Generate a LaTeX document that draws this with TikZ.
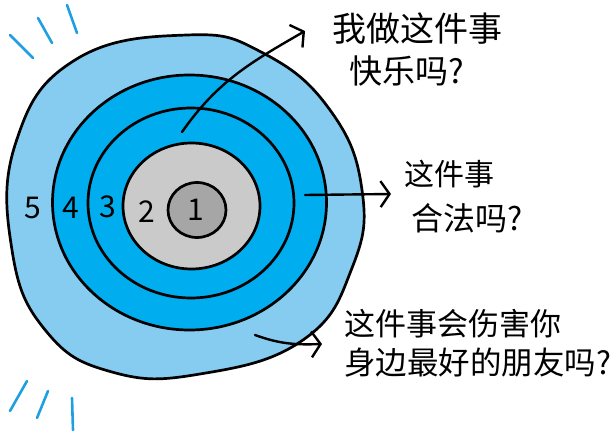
\documentclass[tikz,border=0pt]{standalone}
\usepackage{fontspec}
\newfontfamily\cjk{Noto Sans CJK SC}
\usetikzlibrary{arrows.meta}
\definecolor{ringfive}{HTML}{85CCF0}
\definecolor{ringblue}{HTML}{00AEEF}
\definecolor{ringtwo}{HTML}{CACACA}
\definecolor{ringone}{HTML}{A6A6A6}
\definecolor{rays}{HTML}{1EA0E0}
\tikzset{
  ring/.style={draw=black, line width=2.7pt},
  num/.style={font=\cjk\fontsize{30}{30}\selectfont, inner sep=0pt},
  qtext/.style={font=\cjk\fontsize{31}{31}\selectfont, anchor=west, inner sep=0pt},
  ray/.style={draw=rays, line width=2.6pt, line cap=round},
  arr/.style={draw=black, line width=2.4pt, line cap=round,
    -{Straight Barb[length=9pt,width=26pt,line width=2.4pt]}}
}
\begin{document}
\begin{tikzpicture}[x=1pt,y=-1pt]
\useasboundingbox (0,0) rectangle (613,433);
% outer ring 5
\draw[ring, fill=ringfive] plot[smooth cycle, tension=0.75] coordinates {
  (187,35) (263,53) (330,110) (362,190) (352,268) (303,340)
  (200,374) (112,372) (46,331) (12,250) (16,142) (75,60)};
% ring 4
\draw[ring, fill=ringblue] (189.5,202.5) ellipse [x radius=137, y radius=127.5];
% ring 3
\draw[ring, fill=ringblue] (191,203) ellipse [x radius=103, y radius=95];
% ring 2
\draw[ring, fill=ringtwo] (191.5,206) ellipse [x radius=68.5, y radius=63];
% ring 1
\draw[ring, fill=ringone] (197,210) ellipse [x radius=29, y radius=27.5];
% numbers
\node[num] (n5) at (33,208) {5};
\node[num] (n4) at (71,208) {4};
\node[num] (n3) at (108,207) {3};
\node[num] (n2) at (147,212) {2};
\node[num] (n1) at (196,210) {1};
% question texts
\node[qtext, font=\cjk\fontsize{34}{34}\selectfont] (q1a) at (332,29) {我做这件事};
\node[qtext, font=\cjk\fontsize{33}{33}\selectfont] (q1b) at (349,71) {快乐吗?};
\node[qtext, font=\cjk\fontsize{30}{30}\selectfont] (q2a) at (404,174) {这件事};
\node[qtext, font=\cjk\fontsize{32}{32}\selectfont] (q2b) at (411,218) {合法吗?};
\node[qtext] (q3a) at (344,324) {这件事会伤害你};
\node[qtext, font=\cjk\fontsize{31.5}{31.5}\selectfont] (q3b) at (344,363) {身边最好的朋友吗?};
% arrow anchors
\coordinate (s1) at (182,132);
\coordinate (e1) at (305,31);
\coordinate (s2) at (305,195);
\coordinate (e2) at (391,194);
\coordinate (s3) at (255,335);
\coordinate (e3) at (322,344);
\draw[arr] (s1) to[out=55,in=210] (e1);
\draw[arr] (s2) -- (e2);
\draw[arr] (s3) to[out=-20,in=182] (e3);
% rays
\coordinate (r1a) at (10,35); \coordinate (r1b) at (33,58);
\coordinate (r2a) at (38,18); \coordinate (r2b) at (52,43);
\coordinate (r3a) at (67,5);  \coordinate (r3b) at (77,33);
\coordinate (r4a) at (27,381); \coordinate (r4b) at (10,411);
\coordinate (r5a) at (48,391); \coordinate (r5b) at (37,418);
\coordinate (r6a) at (72,398); \coordinate (r6b) at (73,430);
\draw[ray] (r1a) -- (r1b);
\draw[ray] (r2a) -- (r2b);
\draw[ray] (r3a) -- (r3b);
\draw[ray] (r4a) -- (r4b);
\draw[ray] (r5a) -- (r5b);
\draw[ray] (r6a) -- (r6b);
\end{tikzpicture}
\end{document}
